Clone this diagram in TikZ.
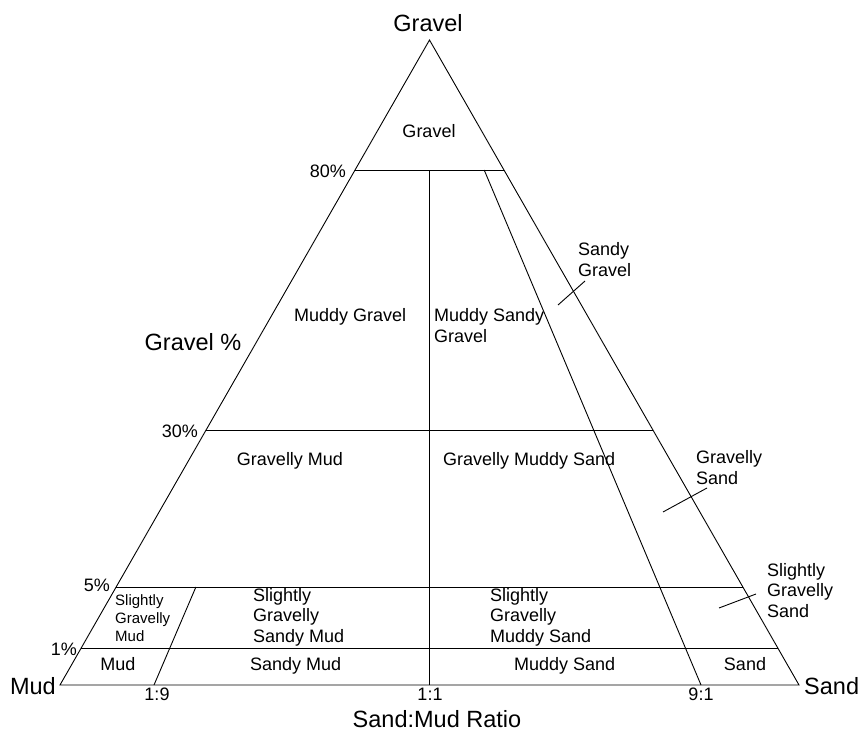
\documentclass[tikz,border=0pt]{standalone}
\usepackage{fontspec}
\setmainfont{Liberation Sans}
\begin{document}
\begin{tikzpicture}[x=1pt,y=-1pt,
  edge/.style={line width=0.9pt,black},
  lbl/.style={inner sep=0pt,font=\fontsize{18}{20.3}\selectfont,align=left},
  smalllbl/.style={inner sep=0pt,font=\fontsize{15}{18}\selectfont,align=left},
  biglbl/.style={inner sep=0pt,font=\fontsize{23.5}{27}\selectfont},
  ticklbl/.style={inner sep=0pt,font=\fontsize{18}{21}\selectfont}]
\useasboundingbox (0,0) rectangle (859,733);
% vertices
\coordinate (M) at (60,685);
\coordinate (S) at (799,685);
\coordinate (G) at (429.5,40);
% horizontal class boundaries
\coordinate (L80) at (355,170);  \coordinate (R80) at (504,170);
\coordinate (L30) at (206.1,430); \coordinate (R30) at (652.9,430);
\coordinate (L5) at (116.1,587); \coordinate (R5) at (742.9,587);
\coordinate (L1) at (81.2,648);  \coordinate (R1) at (777.8,648);
% ratio lines
\coordinate (B19) at (154,685); \coordinate (T19) at (195.9,587);
\coordinate (B11) at (429.5,685); \coordinate (T11) at (429.5,170);
\coordinate (B91) at (701,685); \coordinate (T91) at (484.2,170);
% leader ends
\coordinate (sgA) at (558,305); \coordinate (sgB) at (585,281);
\coordinate (gsA) at (663,512); \coordinate (gsB) at (707,488);
\coordinate (sgsA) at (719,608); \coordinate (sgsB) at (756,594);

\draw[edge] (M) -- (S) -- (G) -- cycle;
\draw[edge] (L80) -- (R80);
\draw[edge] (L30) -- (R30);
\draw[edge] (L5) -- (R5);
\draw[edge] (L1) -- (R1);
\draw[edge] (B19) -- (T19);
\draw[edge] (B11) -- (T11);
\draw[edge] (B91) -- (T91);
\draw[edge] (sgA) -- (sgB);
\draw[edge] (gsA) -- (gsB);
\draw[edge] (sgsA) -- (sgsB);

% vertex and axis labels
\node[biglbl,anchor=base] (tG) at (428,32) {Gravel};
\node[biglbl,anchor=base east] (tM) at (56,694) {Mud};
\node[biglbl,anchor=base west] (tS) at (804,694) {Sand};
\node[biglbl,anchor=base] (tGp) at (193,350) {Gravel \%};
\node[biglbl,anchor=base] (tR) at (437,727) {Sand:Mud Ratio};

% tick labels
\node[ticklbl,anchor=base east] (p80) at (346,177) {80\%};
\node[ticklbl,anchor=base east] (p30) at (198,437) {30\%};
\node[ticklbl,anchor=base east] (p5) at (110,591) {5\%};
\node[ticklbl,anchor=base east] (p1) at (77,655) {1\%};
\node[ticklbl,anchor=base] (r19) at (157,700) {1:9};
\node[ticklbl,anchor=base] (r11) at (430,700) {1:1};
\node[ticklbl,anchor=base] (r91) at (701,700) {9:1};

% class labels (base anchor = baseline of last line)
\node[lbl,anchor=base] (cG) at (429,138) {Gravel};
\node[lbl,anchor=base west] (cSG) at (578,276) {Sandy\\Gravel};
\node[lbl,anchor=base west] (cMG) at (294,321) {Muddy Gravel};
\node[lbl,anchor=base west] (cMSG) at (434,342) {Muddy Sandy\\Gravel};
\node[lbl,anchor=base] (cGM) at (290,465) {Gravelly Mud};
\node[lbl,anchor=base west] (cGMS) at (443,465) {Gravelly Muddy Sand};
\node[lbl,anchor=base west] (cGS) at (696,484) {Gravelly\\Sand};
\node[smalllbl,anchor=base west] (cSGM) at (115,641) {Slightly\\Gravelly\\Mud};
\node[lbl,anchor=base west] (cSGSM) at (253,642) {Slightly\\Gravelly\\Sandy Mud};
\node[lbl,anchor=base west] (cSGMS) at (490,642) {Slightly\\Gravelly\\Muddy Sand};
\node[lbl,anchor=base west] (cSGS) at (767,617) {Slightly\\Gravelly\\Sand};
\node[lbl,anchor=base] (cMud) at (118,670) {Mud};
\node[lbl,anchor=base west] (cSM) at (250,670) {Sandy Mud};
\node[lbl,anchor=base west] (cMS) at (514,670) {Muddy Sand};
\node[lbl,anchor=base] (cSand) at (745,670) {Sand};
\end{tikzpicture}
\end{document}
